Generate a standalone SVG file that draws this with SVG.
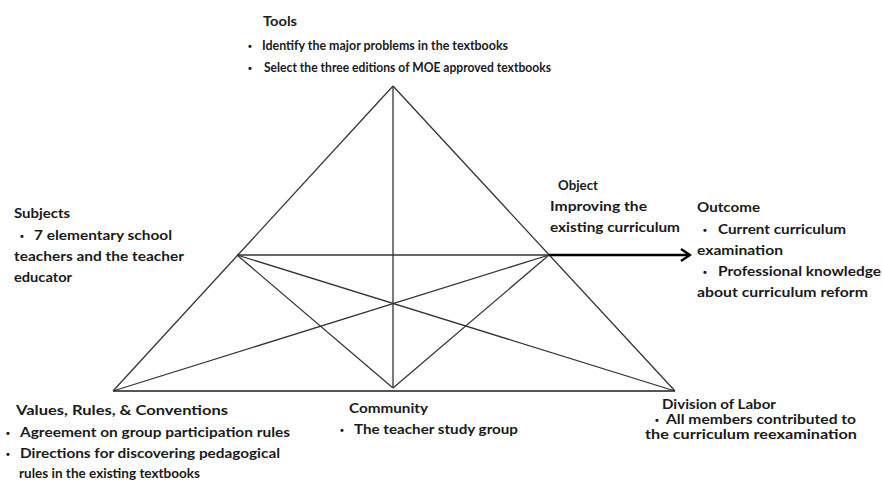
<svg xmlns="http://www.w3.org/2000/svg" width="882" height="480" viewBox="0 0 882 480">
<defs>
<style>
.t{font-family:Lato,"Liberation Sans",sans-serif;font-weight:bold;font-size:14px;fill:#1a1a1a}
.s{font-size:12.5px}
.b{font-family:"Liberation Sans",sans-serif;font-weight:bold;font-size:11px;fill:#1a1a1a}
.ln{stroke:#333;stroke-width:1.3;fill:none}
.base{stroke:#555;stroke-width:2;fill:none}
.arr{stroke:#000;stroke-width:2.6;fill:none}
</style>
<marker id="ah" markerWidth="12" markerHeight="14" refX="10" refY="7" orient="auto" markerUnits="userSpaceOnUse">
<polyline points="1,1 10,7 1,13" fill="none" stroke="#000" stroke-width="2.4"/>
</marker>
</defs>
<rect width="882" height="480" fill="#fff"/>
<g id="connectors">
<line class="ln" x1="393" y1="86" x2="113" y2="391"/>
<line class="ln" x1="393" y1="86" x2="675" y2="391"/>
<line class="base" x1="113" y1="391" x2="675" y2="391"/>
<line class="ln" x1="393" y1="86" x2="393" y2="388"/>
<line class="ln" x1="237" y1="255" x2="549" y2="255"/>
<line class="ln" x1="237" y1="255" x2="675" y2="391"/>
<line class="ln" x1="549" y1="255" x2="113" y2="391"/>
<line class="ln" x1="237" y1="255" x2="393" y2="388"/>
<line class="ln" x1="549" y1="255" x2="393" y2="388"/>
<line class="arr" x1="549" y1="255" x2="690" y2="255" marker-end="url(#ah)"/>
</g>
<g id="tools">
<text class="t" x="263" y="26" textLength="34" lengthAdjust="spacingAndGlyphs">Tools</text>
<text class="b" x="248" y="50">•</text>
<text class="t" x="262" y="50" textLength="246" lengthAdjust="spacingAndGlyphs">Identify the major problems in the textbooks</text>
<text class="b" x="248" y="72">•</text>
<text class="t" x="264" y="72" textLength="287" lengthAdjust="spacingAndGlyphs">Select the three editions of MOE approved textbooks</text>
</g>
<g id="subjects">
<text class="t" x="14" y="218" textLength="56" lengthAdjust="spacingAndGlyphs">Subjects</text>
<text class="b" x="20" y="240">•</text>
<text class="t" x="34" y="240" textLength="138" lengthAdjust="spacingAndGlyphs">7 elementary school</text>
<text class="t" x="14" y="261" textLength="170" lengthAdjust="spacingAndGlyphs">teachers and the teacher</text>
<text class="t" x="14" y="282" textLength="58" lengthAdjust="spacingAndGlyphs">educator</text>
</g>
<g id="object">
<text class="t" x="558" y="190" textLength="40" lengthAdjust="spacingAndGlyphs">Object</text>
<text class="t" x="550" y="211" textLength="97" lengthAdjust="spacingAndGlyphs">Improving the</text>
<text class="t" x="550" y="232" textLength="130" lengthAdjust="spacingAndGlyphs">existing curriculum</text>
</g>
<g id="outcome">
<text class="t" x="697" y="212" textLength="63" lengthAdjust="spacingAndGlyphs">Outcome</text>
<text class="b" x="703" y="234">•</text>
<text class="t" x="718" y="234" textLength="128" lengthAdjust="spacingAndGlyphs">Current curriculum</text>
<text class="t" x="697" y="255" textLength="86" lengthAdjust="spacingAndGlyphs">examination</text>
<text class="b" x="703" y="276">•</text>
<text class="t" x="718" y="276" textLength="163" lengthAdjust="spacingAndGlyphs">Professional knowledge</text>
<text class="t" x="697" y="297" textLength="171" lengthAdjust="spacingAndGlyphs">about curriculum reform</text>
</g>
<g id="values">
<text class="t" x="16" y="415" textLength="212" lengthAdjust="spacingAndGlyphs">Values, Rules, &amp; Conventions</text>
<text class="b" x="6" y="437">•</text>
<text class="t" x="20" y="437" textLength="270" lengthAdjust="spacingAndGlyphs">Agreement on group participation rules</text>
<text class="b" x="6" y="458">•</text>
<text class="t" x="20" y="458" textLength="260" lengthAdjust="spacingAndGlyphs">Directions for discovering pedagogical</text>
<text class="t" x="19" y="478" textLength="181" lengthAdjust="spacingAndGlyphs">rules in the existing textbooks</text>
</g>
<g id="community">
<text class="t" x="349" y="413" textLength="79" lengthAdjust="spacingAndGlyphs">Community</text>
<text class="b" x="340" y="434">•</text>
<text class="t" x="354" y="434" textLength="164" lengthAdjust="spacingAndGlyphs">The teacher study group</text>
</g>
<g id="division">
<text class="t s" x="662" y="409" textLength="114" lengthAdjust="spacingAndGlyphs">Division of Labor</text>
<text class="b" x="655" y="424">•</text>
<text class="t s" x="666" y="424" textLength="190" lengthAdjust="spacingAndGlyphs">All members contributed to</text>
<text class="t s" x="645" y="439" textLength="212" lengthAdjust="spacingAndGlyphs">the curriculum reexamination</text>
</g>
</svg>
